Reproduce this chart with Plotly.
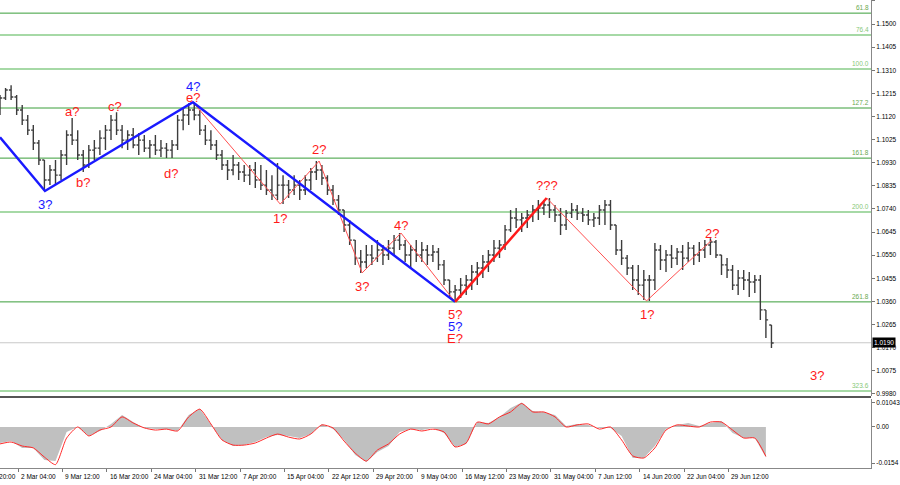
import numpy as np
import plotly.graph_objects as go

FONT = "Liberation Sans"

# ---------------- price data (one drawn bar = 4 H4 bars) ----------------
BAR_STEP = 4
bar_high = [
    1.1208, 1.1237, 1.1249, 1.1208, 1.1167, 1.1126, 1.1085, 1.1023, 1.0941, 1.0921,
    1.0941, 1.0982, 1.1064, 1.1114, 1.1064, 1.0982, 1.1003, 1.1023, 1.1064, 1.1085,
    1.1126, 1.1138, 1.1085, 1.1064, 1.1073, 1.1052, 1.1044, 1.1023, 1.1044, 1.1023,
    1.1011, 1.1023, 1.1126, 1.1155, 1.1175, 1.1179, 1.1147, 1.1085, 1.1064, 1.1023,
    1.0982, 1.0941, 1.0962, 1.0933, 1.0921, 1.0921, 1.0933, 1.0921, 1.0900, 1.0879,
    1.0929, 1.0879, 1.0859, 1.0879, 1.0859, 1.0879, 1.0908, 1.0937, 1.0921, 1.0879,
    1.0838, 1.0797, 1.0736, 1.0695, 1.0612, 1.0571, 1.0592, 1.0592, 1.0612, 1.0592,
    1.0612, 1.0633, 1.0641, 1.0612, 1.0592, 1.0612, 1.0604, 1.0592, 1.0592, 1.0579,
    1.0530, 1.0448, 1.0427, 1.0456, 1.0468, 1.0510, 1.0522, 1.0551, 1.0571, 1.0612,
    1.0612, 1.0674, 1.0736, 1.0744, 1.0723, 1.0736, 1.0756, 1.0777, 1.0777, 1.0785,
    1.0756, 1.0744, 1.0736, 1.0764, 1.0756, 1.0744, 1.0736, 1.0723, 1.0756, 1.0777,
    1.0777, 1.0674, 1.0612, 1.0551, 1.0510, 1.0510, 1.0489, 1.0468, 1.0600, 1.0592,
    1.0571, 1.0592, 1.0579, 1.0592, 1.0604, 1.0592, 1.0604, 1.0612, 1.0620, 1.0612,
    1.0551, 1.0538, 1.0510, 1.0489, 1.0489, 1.0481, 1.0468, 1.0468, 1.0325, 1.0263,
]
bar_low = [
    1.1126, 1.1188, 1.1188, 1.1126, 1.1085, 1.1044, 1.0982, 1.0921, 1.0814, 1.0838,
    1.0838, 1.0859, 1.0921, 1.1003, 1.0941, 1.0892, 1.0908, 1.0941, 1.0962, 1.0982,
    1.1023, 1.1044, 1.0990, 1.0982, 1.0990, 1.0962, 1.0974, 1.0949, 1.0962, 1.0954,
    1.0949, 1.0949, 1.0982, 1.1064, 1.1085, 1.1105, 1.1044, 1.1003, 1.0982, 1.0941,
    1.0900, 1.0859, 1.0879, 1.0859, 1.0851, 1.0838, 1.0826, 1.0818, 1.0797, 1.0777,
    1.0777, 1.0760, 1.0785, 1.0797, 1.0777, 1.0797, 1.0818, 1.0859, 1.0838, 1.0797,
    1.0756, 1.0715, 1.0645, 1.0592, 1.0510, 1.0477, 1.0497, 1.0510, 1.0522, 1.0510,
    1.0530, 1.0551, 1.0571, 1.0522, 1.0497, 1.0522, 1.0522, 1.0510, 1.0522, 1.0489,
    1.0427, 1.0374, 1.0358, 1.0374, 1.0386, 1.0407, 1.0427, 1.0456, 1.0481, 1.0522,
    1.0538, 1.0571, 1.0645, 1.0662, 1.0645, 1.0662, 1.0686, 1.0695, 1.0715, 1.0703,
    1.0686, 1.0633, 1.0654, 1.0703, 1.0695, 1.0686, 1.0674, 1.0666, 1.0674, 1.0674,
    1.0654, 1.0551, 1.0510, 1.0468, 1.0407, 1.0386, 1.0366, 1.0362, 1.0407, 1.0489,
    1.0481, 1.0497, 1.0510, 1.0489, 1.0522, 1.0510, 1.0522, 1.0538, 1.0551, 1.0538,
    1.0468, 1.0456, 1.0407, 1.0386, 1.0407, 1.0378, 1.0394, 1.0284, 1.0210, 1.0168,
]
bar_close = [
    1.1196, 1.1229, 1.1200, 1.1147, 1.1105, 1.1064, 1.1011, 1.0941, 1.0859, 1.0900,
    1.0879, 1.0962, 1.1044, 1.1023, 1.0962, 1.0921, 1.0982, 1.0990, 1.1031, 1.1064,
    1.1105, 1.1064, 1.1023, 1.1044, 1.1003, 1.1023, 1.0990, 1.1003, 1.0982, 1.0990,
    1.0982, 1.1003, 1.1105, 1.1126, 1.1147, 1.1126, 1.1064, 1.1023, 1.1003, 1.0962,
    1.0921, 1.0900, 1.0921, 1.0892, 1.0879, 1.0900, 1.0859, 1.0838, 1.0818, 1.0797,
    1.0838, 1.0838, 1.0818, 1.0838, 1.0818, 1.0859, 1.0892, 1.0900, 1.0867, 1.0818,
    1.0777, 1.0736, 1.0674, 1.0612, 1.0538, 1.0522, 1.0551, 1.0538, 1.0571, 1.0551,
    1.0579, 1.0612, 1.0592, 1.0551, 1.0571, 1.0551, 1.0571, 1.0551, 1.0563, 1.0510,
    1.0448, 1.0399, 1.0407, 1.0427, 1.0448, 1.0481, 1.0497, 1.0522, 1.0551, 1.0579,
    1.0592, 1.0654, 1.0703, 1.0695, 1.0703, 1.0715, 1.0736, 1.0744, 1.0756, 1.0736,
    1.0715, 1.0674, 1.0723, 1.0736, 1.0723, 1.0715, 1.0695, 1.0703, 1.0736, 1.0756,
    1.0674, 1.0571, 1.0538, 1.0497, 1.0448, 1.0427, 1.0448, 1.0448, 1.0571, 1.0530,
    1.0551, 1.0538, 1.0563, 1.0538, 1.0579, 1.0551, 1.0571, 1.0592, 1.0604, 1.0551,
    1.0510, 1.0489, 1.0427, 1.0456, 1.0448, 1.0440, 1.0448, 1.0325, 1.0284, 1.0189,
]

# ---------------- oscillator (one sample = 8 H4 bars) ----------------
OSC_STEP = 8
osc_hist = [
    -0.0068, -0.0060, -0.0089, -0.0089, -0.0140, -0.0145, -0.0021, 0.0000, -0.0038, -0.0017,
    0.0013, 0.0051, 0.0021, -0.0004, -0.0009, -0.0009, -0.0017, 0.0051, 0.0078, 0.0009,
    -0.0055, -0.0081, -0.0077, -0.0064, -0.0043, -0.0034, -0.0038, -0.0047, -0.0030, 0.0013,
    -0.0009, -0.0055, -0.0119, -0.0149, -0.0106, -0.0081, -0.0021, -0.0009, -0.0013, -0.0004,
    -0.0026, -0.0085, -0.0072, 0.0021, 0.0017, 0.0043, 0.0081, 0.0104, 0.0068, 0.0064,
    0.0051, 0.0004, 0.0013, 0.0009, -0.0004, -0.0004, -0.0038, -0.0132, -0.0132, -0.0081,
    -0.0009, 0.0009, 0.0017, 0.0004, 0.0017, 0.0026, -0.0026, -0.0047, -0.0047, -0.0130,
]
osc_signal = [
    -0.0072, -0.0064, -0.0081, -0.0089, -0.0128, -0.0160, -0.0047, 0.0000, -0.0038, -0.0013,
    0.0000, 0.0043, 0.0017, -0.0004, -0.0013, -0.0009, -0.0017, 0.0043, 0.0076, 0.0013,
    -0.0055, -0.0077, -0.0077, -0.0068, -0.0047, -0.0030, -0.0043, -0.0051, -0.0030, 0.0009,
    -0.0004, -0.0060, -0.0111, -0.0145, -0.0098, -0.0072, -0.0030, -0.0009, -0.0017, -0.0009,
    -0.0021, -0.0085, -0.0068, 0.0021, 0.0013, 0.0043, 0.0064, 0.0100, 0.0064, 0.0064,
    0.0043, 0.0000, 0.0009, 0.0013, -0.0009, 0.0000, -0.0055, -0.0123, -0.0132, -0.0089,
    -0.0013, 0.0009, 0.0004, 0.0000, 0.0021, 0.0021, -0.0013, -0.0047, -0.0047, -0.0125,
]
osc_tick_vals = [0.01043, 0.0, -0.0154]
osc_tick_text = ["0.01043", "0.00", "-0.0154"]

# ---------------- levels, ticks ----------------
fib_names = ["61.8", "76.4", "100.0", "127.2", "161.8", "200.0", "261.8", "323.6"]
fib_prices = [1.1545, 1.1455, 1.1315, 1.1155, 1.0949, 1.0727, 1.0358, 0.9992]
fib_strong = [True, False, False, True, True, False, True, False]
current_price = 1.0190

price_ticks = [1.1595, 1.1500, 1.1405, 1.1310, 1.1215, 1.1120, 1.1025, 1.0930, 1.0835,
               1.0740, 1.0645, 1.0550, 1.0455, 1.0360, 1.0265, 1.0170, 1.0075, 0.9980]
time_labels = ["22 Feb 20:00", "2 Mar 04:00", "9 Mar 12:00", "16 Mar 20:00", "24 Mar 04:00",
               "31 Mar 12:00", "7 Apr 20:00", "15 Apr 04:00", "22 Apr 12:00", "29 Apr 20:00",
               "9 May 04:00", "16 May 12:00", "23 May 20:00", "31 May 04:00", "7 Jun 12:00",
               "14 Jun 20:00", "22 Jun 04:00", "29 Jun 12:00"]
time_first_bar = -19
time_every = 32

# ---------------- wave pivots (bar index, price) ----------------
blue_wave_bar = [0, 32.4, 139, 328]
blue_wave_price = [1.1035, 1.0814, 1.1179, 1.0358]
red_sub_bar = [139, 202, 230, 261, 289, 328]
red_sub_price = [1.1179, 1.0760, 1.0937, 1.0477, 1.0641, 1.0358]
red_main_bar = [328, 394]
red_main_price = [1.0358, 1.0785]
red_sub2_bar = [394, 466, 513]
red_sub2_price = [1.0785, 1.0362, 1.0612]

BLUE = "#1a1aff"
RED = "#ff1a1a"
wave_labels = [
    ("3?", BLUE, 32.4, 1.0814, -14), ("4?", BLUE, 139, 1.1179, 16), ("e?", RED, 139, 1.1179, 5),
    ("a?", RED, 52, 1.1114, 6), ("b?", RED, 60, 1.0892, -11), ("c?", RED, 83, 1.1138, 6),
    ("d?", RED, 123, 1.0949, -15), ("1?", RED, 202, 1.0760, -14), ("2?", RED, 230, 1.0937, 12),
    ("3?", RED, 261, 1.0477, -14), ("4?", RED, 289, 1.0641, 8), ("5?", RED, 328, 1.0358, -13),
    ("5?", BLUE, 328, 1.0358, -25), ("E?", RED, 328, 1.0358, -37), ("???", RED, 394, 1.0785, 13),
    ("1?", RED, 466, 1.0362, -14), ("2?", RED, 513, 1.0612, 7), ("3?", RED, 589, 1.0057, 0),
]

X_MAX = 627.75

fig = go.Figure()

high = np.array(bar_high)
low = np.array(bar_low)
close = np.array(bar_close)
opens = np.clip(np.r_[close[0], close[:-1]], low, high)
bar_x = np.arange(len(close)) * BAR_STEP

fig.add_trace(go.Ohlc(
    x=bar_x, open=opens, high=high, low=low, close=close,
    increasing=dict(line=dict(color="#3c3c3c", width=1.4)),
    decreasing=dict(line=dict(color="#3c3c3c", width=1.4)),
    tickwidth=0.4, hoverinfo="skip", xaxis="x", yaxis="y"))

for bx, py, col, w in [
    (red_sub_bar, red_sub_price, "#ff5050", 1),
    (red_sub2_bar, red_sub2_price, "#ff5050", 1),
    (blue_wave_bar, blue_wave_price, BLUE, 2.5),
    (red_main_bar, red_main_price, RED, 2.5),
]:
    fig.add_trace(go.Scatter(x=bx, y=py, mode="lines", line=dict(color=col, width=w),
                             hoverinfo="skip", xaxis="x", yaxis="y"))

osc_x = np.arange(len(osc_hist)) * OSC_STEP
fig.add_trace(go.Scatter(x=osc_x, y=osc_hist, mode="lines", fill="tozeroy",
                         fillcolor="#c0c0c0", line=dict(width=0, color="#c0c0c0"),
                         hoverinfo="skip", xaxis="x2", yaxis="y2"))
fig.add_trace(go.Scatter(x=osc_x, y=osc_signal, mode="lines",
                         line=dict(color="#ff2a2a", width=1, shape="spline", smoothing=0.6),
                         hoverinfo="skip", xaxis="x2", yaxis="y2"))

shapes = []
annotations = []
for name, price, strong in zip(fib_names, fib_prices, fib_strong):
    shapes.append(dict(type="line", xref="paper", x0=0, x1=1, yref="y", y0=price, y1=price,
                       line=dict(color="#3a9e3a" if strong else "#a6d9a6", width=1 if strong else 2),
                       layer="below"))
    annotations.append(dict(xref="paper", x=1, xanchor="right", yref="y", y=price, yanchor="bottom",
                            text=name, showarrow=False, yshift=0,
                            font=dict(family=FONT, size=6.5, color="#6aa84f" if strong else "#86c878")))
shapes.append(dict(type="line", xref="paper", x0=0, x1=1, yref="y", y0=current_price, y1=current_price,
                   line=dict(color="#c8c8c8", width=1), layer="below"))
shapes.append(dict(type="line", xref="paper", x0=0, x1=1, yref="paper", y0=0.1517, y1=0.1517,
                   line=dict(color="#555555", width=2)))

annotations.append(dict(xref="paper", x=1, xanchor="left", xshift=1, yref="y", y=current_price,
                        yanchor="middle", text="1.0190", showarrow=False, bgcolor="black",
                        borderpad=1, font=dict(family=FONT, size=6.5, color="white")))

for k, lab in enumerate(time_labels):
    b = time_first_bar + k * time_every
    annotations.append(dict(xref="paper", x=b / X_MAX, xanchor="left", xshift=1,
                            yref="paper", y=0, yanchor="top", yshift=-3, text=lab,
                            showarrow=False, font=dict(family=FONT, size=6.5, color="black")))

for text, col, b, p, ys in wave_labels:
    annotations.append(dict(xref="x", yref="y", x=b, y=p, text=text, showarrow=False,
                            xanchor="center", yanchor="middle", yshift=ys,
                            font=dict(family=FONT, size=13, color=col)))

tick_bars = [time_first_bar + k * time_every for k in range(1, len(time_labels))]

fig.update_layout(
    width=900, height=485, margin=dict(l=0, r=29, t=0, b=17),
    paper_bgcolor="white", plot_bgcolor="white", showlegend=False,
    font=dict(family=FONT, size=6.5, color="black"),
    shapes=shapes, annotations=annotations,
    xaxis=dict(domain=[0, 1], anchor="y", range=[0, X_MAX], showticklabels=False,
               showgrid=False, zeroline=False, rangeslider=dict(visible=False), ticks=""),
    xaxis2=dict(domain=[0, 1], anchor="y2", range=[0, X_MAX], tickvals=tick_bars,
                ticktext=[""] * len(tick_bars), ticks="outside", ticklen=3, tickcolor="#777777",
                showline=True, linecolor="#888888", linewidth=1, showgrid=False, zeroline=False),
    yaxis=dict(domain=[0.1538, 1], anchor="x", side="right", range=[0.9971, 1.1599],
               tickvals=price_ticks, tickformat=".4f", ticks="outside", ticklen=3,
               tickcolor="#777777", showline=True, linecolor="#888888", linewidth=1,
               showgrid=False, zeroline=False, tickfont=dict(family=FONT, size=6.5, color="black")),
    yaxis2=dict(domain=[0, 0.1474], anchor="x2", side="right", range=[-0.01745, 0.01191],
                tickvals=osc_tick_vals, ticktext=osc_tick_text, ticks="outside", ticklen=3,
                tickcolor="#777777", showline=True, linecolor="#888888", linewidth=1,
                showgrid=False, zeroline=False, tickfont=dict(family=FONT, size=6.5, color="black")),
)

fig.write_html("out.html", config={"displayModeBar": False},
               post_script="document.body.style.margin='0';document.body.style.overflow='hidden';")
